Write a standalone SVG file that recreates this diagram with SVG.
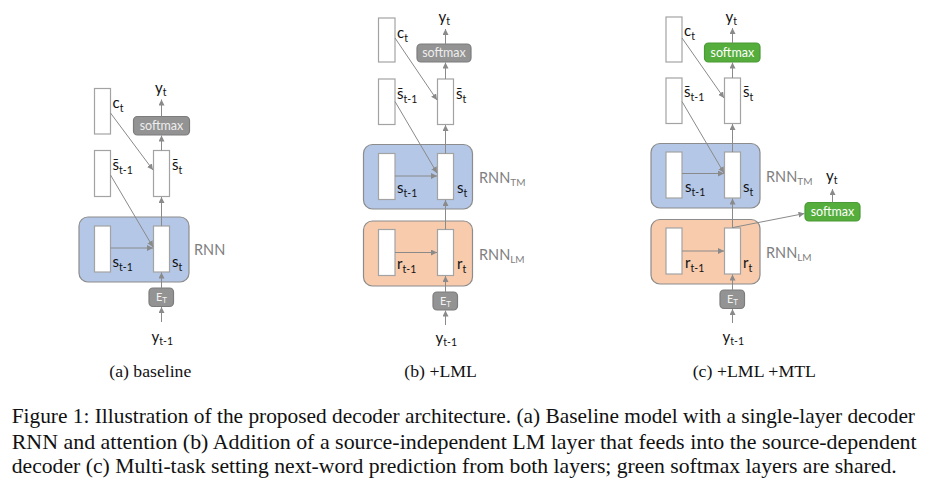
<svg xmlns="http://www.w3.org/2000/svg" width="926" height="488" viewBox="0 0 926 488">
<defs>
<marker id="ah" markerUnits="userSpaceOnUse" markerWidth="7" markerHeight="7" refX="6" refY="3" orient="auto">
<path d="M0,0 L6,3 L0,6 z" fill="#8a8a8a"/>
</marker>
<style>
.vec{fill:#fff;stroke:#a3a3a3;stroke-width:1.2}
.tm{fill:#b4c7e7;stroke:#8c8c8c;stroke-width:1.2}
.lm{fill:#f8cbad;stroke:#8c8c8c;stroke-width:1.2}
.gbox{fill:#939393;stroke:#7c7c7c;stroke-width:1.2}
.green{fill:#55ad3c;stroke:#4a9a35;stroke-width:1.2}
.lab{font-family:Lato,"Open Sans",sans-serif;font-size:15px;fill:#111}
.sub{font-size:10.5px}
.rnn{font-family:Lato,"Open Sans",sans-serif;font-size:14.5px;fill:#7f7f7f}
.rsub{font-size:10px}
.smx{font-family:Lato,"Open Sans",sans-serif;font-size:12.5px;fill:#eeeeee;text-anchor:middle}
.smxg{font-family:Lato,"Open Sans",sans-serif;font-size:12.5px;fill:#ffffff;text-anchor:middle}
.et{font-family:Lato,"Open Sans",sans-serif;font-size:11px;fill:#f2f2f2}
.cap{font-family:"Liberation Serif","Times New Roman",serif;font-size:21px;fill:#111}
.subcap{font-family:"Liberation Serif","Times New Roman",serif;font-size:17px;fill:#111}
.conn line{stroke:#8a8a8a;stroke-width:1;marker-end:url(#ah)}
</style>
</defs>
<rect width="926" height="488" fill="#fff"/>

<!-- ===== Panel (a) ===== -->
<g id="a_rnn"><rect class="tm" x="79" y="217" width="110" height="65" rx="9"/><text class="rnn" x="194" y="255">RNN</text></g>
<g id="a_ct"><rect class="vec" x="94.5" y="88.5" width="16" height="45.5"/><text class="lab" x="112.5" y="108">c<tspan class="sub" dy="4">t</tspan></text></g>
<g id="a_sbar_prev"><rect class="vec" x="94.5" y="150.5" width="16" height="46"/><text class="lab" x="112.5" y="170">s̄<tspan class="sub" dy="4">t-1</tspan></text></g>
<g id="a_sbar_t"><rect class="vec" x="153.5" y="150.5" width="16" height="46"/><text class="lab" x="172" y="170">s̄<tspan class="sub" dy="4">t</tspan></text></g>
<g id="a_s_prev"><rect class="vec" x="94.5" y="226" width="16" height="46"/><text class="lab" x="112.5" y="267">s<tspan class="sub" dy="4">t-1</tspan></text></g>
<g id="a_s_t"><rect class="vec" x="153.5" y="226" width="16" height="46"/><text class="lab" x="172" y="267">s<tspan class="sub" dy="4">t</tspan></text></g>
<g id="a_softmax"><rect class="gbox" x="133.5" y="116.5" width="56" height="18.5" rx="4"/><text class="smx" x="161.5" y="130">softmax</text></g>
<g id="a_et"><rect class="gbox" x="149" y="288" width="24.5" height="18.5" rx="4"/><text class="et" x="156" y="301">E<tspan font-size="8" dy="2">T</tspan></text></g>
<g id="a_yt"><text class="lab" x="155" y="93">y<tspan class="sub" dy="3">t</tspan></text></g>
<g id="a_yprev"><text class="lab" x="151.5" y="342">y<tspan class="sub" dy="3">t-1</tspan></text></g>

<!-- ===== Panel (b) ===== -->
<g id="b_tm"><rect class="tm" x="363.5" y="144.5" width="109" height="64.5" rx="9"/><text class="rnn" x="479" y="183">RNN<tspan class="rsub" dy="3">TM</tspan></text></g>
<g id="b_lm"><rect class="lm" x="363.5" y="221" width="109" height="65" rx="9"/><text class="rnn" x="479" y="260">RNN<tspan class="rsub" dy="3">LM</tspan></text></g>
<g id="b_ct"><rect class="vec" x="378.5" y="18" width="16.5" height="44"/><text class="lab" x="397" y="38">c<tspan class="sub" dy="4">t</tspan></text></g>
<g id="b_sbar_prev"><rect class="vec" x="378.5" y="79" width="16.5" height="45.5"/><text class="lab" x="397" y="99">s̄<tspan class="sub" dy="4">t-1</tspan></text></g>
<g id="b_sbar_t"><rect class="vec" x="437.5" y="79" width="16" height="45.5"/><text class="lab" x="456" y="99">s̄<tspan class="sub" dy="4">t</tspan></text></g>
<g id="b_s_prev"><rect class="vec" x="378.5" y="153.5" width="16.5" height="46"/><text class="lab" x="397" y="193">s<tspan class="sub" dy="4">t-1</tspan></text></g>
<g id="b_s_t"><rect class="vec" x="437.5" y="153.5" width="16" height="46"/><text class="lab" x="457" y="193">s<tspan class="sub" dy="4">t</tspan></text></g>
<g id="b_r_prev"><rect class="vec" x="378.5" y="229.5" width="16.5" height="46"/><text class="lab" x="397" y="269">r<tspan class="sub" dy="4">t-1</tspan></text></g>
<g id="b_r_t"><rect class="vec" x="437.5" y="229.5" width="16" height="46"/><text class="lab" x="457" y="269">r<tspan class="sub" dy="4">t</tspan></text></g>
<g id="b_softmax"><rect class="gbox" x="417" y="44" width="54" height="18" rx="4"/><text class="smx" x="444" y="57">softmax</text></g>
<g id="b_et"><rect class="gbox" x="433" y="292" width="24.5" height="18" rx="4"/><text class="et" x="440" y="305">E<tspan font-size="8" dy="2">T</tspan></text></g>
<g id="b_yt"><text class="lab" x="438.5" y="22">y<tspan class="sub" dy="3">t</tspan></text></g>
<g id="b_yprev"><text class="lab" x="435.5" y="343">y<tspan class="sub" dy="3">t-1</tspan></text></g>

<!-- ===== Panel (c) ===== -->
<g id="c_tm"><rect class="tm" x="651" y="143.5" width="109" height="64.5" rx="9"/><text class="rnn" x="766" y="182">RNN<tspan class="rsub" dy="3">TM</tspan></text></g>
<g id="c_lm"><rect class="lm" x="651" y="219.5" width="109" height="64.5" rx="9"/><text class="rnn" x="766" y="258">RNN<tspan class="rsub" dy="3">LM</tspan></text></g>
<g id="c_ct"><rect class="vec" x="666" y="17" width="16" height="45"/><text class="lab" x="684" y="36">c<tspan class="sub" dy="4">t</tspan></text></g>
<g id="c_sbar_prev"><rect class="vec" x="666" y="78" width="16" height="45.5"/><text class="lab" x="684" y="97">s̄<tspan class="sub" dy="4">t-1</tspan></text></g>
<g id="c_sbar_t"><rect class="vec" x="724.5" y="78" width="16" height="45.5"/><text class="lab" x="743" y="97">s̄<tspan class="sub" dy="4">t</tspan></text></g>
<g id="c_s_prev"><rect class="vec" x="666" y="152" width="16" height="46"/><text class="lab" x="685" y="192">s<tspan class="sub" dy="4">t-1</tspan></text></g>
<g id="c_s_t"><rect class="vec" x="724.5" y="152" width="16" height="46"/><text class="lab" x="743" y="192">s<tspan class="sub" dy="4">t</tspan></text></g>
<g id="c_r_prev"><rect class="vec" x="666" y="228" width="16" height="46"/><text class="lab" x="685" y="268">r<tspan class="sub" dy="4">t-1</tspan></text></g>
<g id="c_r_t"><rect class="vec" x="724.5" y="228" width="16" height="46"/><text class="lab" x="743" y="268">r<tspan class="sub" dy="4">t</tspan></text></g>
<g id="c_softmax"><rect class="green" x="704.5" y="43" width="55.5" height="19" rx="4"/><text class="smxg" x="732.3" y="57">softmax</text></g>
<g id="c_softmax2"><rect class="green" x="805" y="202.5" width="55" height="18.5" rx="4"/><text class="smxg" x="832.5" y="216">softmax</text></g>
<g id="c_et"><rect class="gbox" x="720" y="290" width="24.5" height="18.5" rx="4"/><text class="et" x="727" y="303">E<tspan font-size="8" dy="2">T</tspan></text></g>
<g id="c_yt"><text class="lab" x="725.5" y="22">y<tspan class="sub" dy="3">t</tspan></text></g>
<g id="c_yt2"><text class="lab" x="826" y="181">y<tspan class="sub" dy="3">t</tspan></text></g>
<g id="c_yprev"><text class="lab" x="722.5" y="342">y<tspan class="sub" dy="3">t-1</tspan></text></g>

<!-- ===== Connectors ===== -->
<g id="connectors" class="conn">
<!-- a -->
<line x1="161.5" y1="322" x2="161.5" y2="307"/>
<line x1="161.5" y1="288" x2="161.5" y2="272.5"/>
<line x1="161.5" y1="226" x2="161.5" y2="197"/>
<line x1="161.5" y1="150.5" x2="161.5" y2="135.5"/>
<line x1="161.5" y1="116.5" x2="161.5" y2="99.5"/>
<line x1="110.5" y1="113" x2="153" y2="170"/>
<line x1="110.5" y1="175" x2="153" y2="247"/>
<line x1="110.5" y1="248" x2="153" y2="248"/>
<!-- b -->
<line x1="445.5" y1="325" x2="445.5" y2="310.5"/>
<line x1="445.5" y1="292" x2="445.5" y2="276"/>
<line x1="445.5" y1="229.5" x2="445.5" y2="200"/>
<line x1="445.5" y1="153.5" x2="445.5" y2="125"/>
<line x1="445.5" y1="79" x2="445.5" y2="62.5"/>
<line x1="445.5" y1="44" x2="445.5" y2="29"/>
<line x1="395" y1="38" x2="437" y2="100"/>
<line x1="395" y1="101.5" x2="437" y2="173"/>
<line x1="395" y1="176" x2="437" y2="176"/>
<line x1="395" y1="252.5" x2="437" y2="252.5"/>
<!-- c -->
<line x1="732.5" y1="323" x2="732.5" y2="309"/>
<line x1="732.5" y1="290" x2="732.5" y2="274.5"/>
<line x1="732.5" y1="228" x2="732.5" y2="198.5"/>
<line x1="732.5" y1="152" x2="732.5" y2="124"/>
<line x1="732.5" y1="78" x2="732.5" y2="62.5"/>
<line x1="732.5" y1="43" x2="732.5" y2="28"/>
<line x1="682" y1="38" x2="724" y2="98"/>
<line x1="682" y1="101.5" x2="724" y2="173"/>
<line x1="682" y1="173.5" x2="724" y2="173.5"/>
<line x1="682" y1="251" x2="724" y2="251"/>
<line x1="733" y1="227.5" x2="804.5" y2="213.5"/>
<line x1="832.5" y1="202.5" x2="832.5" y2="189"/>
</g>

<!-- ===== Captions ===== -->
<text class="subcap" x="109.3" y="377" textLength="82" lengthAdjust="spacingAndGlyphs">(a) baseline</text>
<text class="subcap" x="404.3" y="377" textLength="72.5" lengthAdjust="spacingAndGlyphs">(b) +LML</text>
<text class="subcap" x="692.7" y="377" textLength="123.3" lengthAdjust="spacingAndGlyphs">(c) +LML +MTL</text>
<text class="cap" x="11.7" y="423" textLength="903.3" lengthAdjust="spacingAndGlyphs">Figure 1: Illustration of the proposed decoder architecture. (a) Baseline model with a single-layer decoder</text>
<text class="cap" x="11.7" y="449" textLength="905" lengthAdjust="spacingAndGlyphs">RNN and attention (b) Addition of a source-independent LM layer that feeds into the source-dependent</text>
<text class="cap" x="11.7" y="473" textLength="885" lengthAdjust="spacingAndGlyphs">decoder (c) Multi-task setting next-word prediction from both layers; green softmax layers are shared.</text>
</svg>
